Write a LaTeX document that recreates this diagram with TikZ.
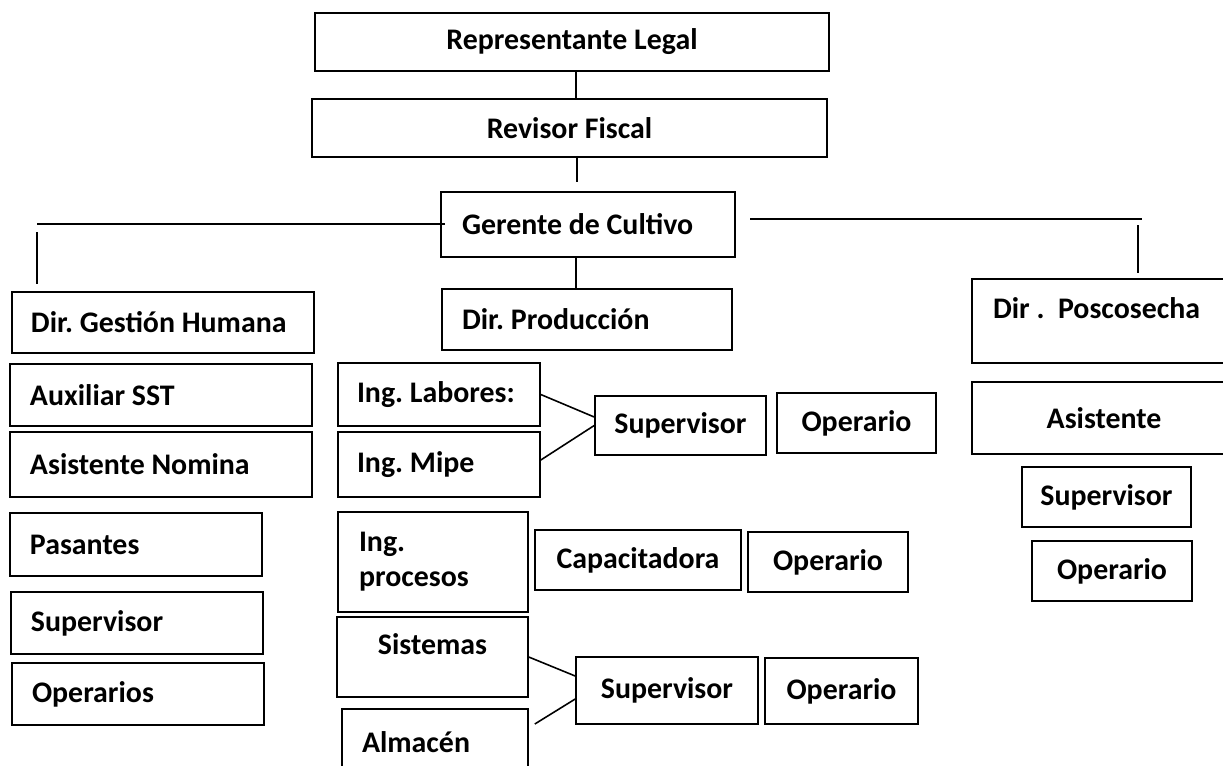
\documentclass[tikz,border=0pt]{standalone}
\usepackage{fontspec}
\setmainfont{Carlito}
\usepackage{tikz}
\frenchspacing

\begin{document}
\begin{tikzpicture}[x=0.02cm,y=-0.02cm,line width=0.9pt,
  caja/.style 2 args={draw,inner sep=0pt,minimum width=#1*0.02cm,minimum height=#2*0.02cm,
    font=\bfseries\fontsize{17}{19.8}\selectfont},
  izq/.style={text width=#1*0.02cm,align=flush left},
  arriba/.style={text height=0.4cm,text depth=0.52cm}]
  \useasboundingbox (0,0) rectangle (1223,765);
  \clip (0,0) rectangle (1223,765);
  \node[caja={514}{58}] (rep) at (572,42) {Representante Legal};
  \node[caja={515}{58}] (rev) at (569.5,128) {Revisor Fiscal};
  \node[caja={294}{65},izq=252] (ger) at (588,224.5) {Gerente de Cultivo};
  \node[caja={302}{61},izq=264] (dgh) at (163,322.5) {Dir. Gestión Humana};
  \node[caja={302}{62},izq=262] (aux) at (161,395) {Auxiliar SST};
  \node[caja={302}{65},izq=262] (nom) at (161,464.5) {Asistente Nomina};
  \node[caja={252}{63},izq=212] (pas) at (136,544.5) {Pasantes};
  \node[caja={252}{62},izq=212] (supgh) at (137,623) {Supervisor};
  \node[caja={252}{62},izq=212] (opgh) at (138,694) {Operarios};
  \node[caja={290}{61},izq=250] (dpro) at (587,319.5) {Dir. Producción};
  \node[caja={202}{63},izq=164] (lab) at (439,394.5) {Ing. Labores:};
  \node[caja={202}{65},izq=164] (mip) at (439,464.5) {Ing. Mipe};
  \node[caja={171}{59}] (suplab) at (680.5,425.5) {Supervisor};
  \node[caja={159}{60}] (oplab) at (856.5,423) {Operario};
  \node[caja={190}{100},izq=148] (proc) at (433,562) {Ing.\\procesos};
  \node[caja={206}{60}] (cap) at (638,560) {Capacitadora};
  \node[caja={160}{60}] (opcap) at (828,562) {Operario};
  \node[caja={191}{80},arriba] (sis) at (432.5,657) {Sistemas};
  \node[caja={186}{66},izq=146] (alm) at (435,742) {Almacén};
  \node[caja={182}{67}] (supsis) at (667,690.5) {Supervisor};
  \node[caja={153}{66}] (opsis) at (841.5,691) {Operario};
  \node[caja={264}{84},izq=222,arriba] (dpos) at (1104,321) {Dir .\ \ Poscosecha};
  \node[caja={264}{72}] (asis) at (1104,418) {Asistente};
  \node[caja={169}{60}] (suppos) at (1106.5,497) {Supervisor};
  \node[caja={160}{60}] (oppos) at (1112,571) {Operario};
  \coordinate (eje) at (576,0);
  \coordinate (finrev) at (577,182);
  \coordinate (izqH) at (37,224);
  \coordinate (izqA) at (37,232);
  \coordinate (izqB) at (37,284);
  \coordinate (derA) at (750,219);
  \coordinate (derB) at (1142,219);
  \coordinate (derC) at (1138,225);
  \coordinate (derD) at (1138,273);
  \draw (rep.south -| eje) -- (rev.north -| eje);
  \draw ([yshift=0.04cm]rev.south -| finrev) -- (finrev);
  \draw ([xshift=0.1cm]ger.west |- izqH) -- (izqH);
  \draw (izqA) -- (izqB);
  \draw (derA) -- (derB);
  \draw (derC) -- (derD);
  \draw (ger.south -| eje) -- (dpro.north -| eje);
  \draw (lab.east) -- ([yshift=0.17cm]suplab.west);
  \draw ([yshift=0.09cm]mip.east) -- (suplab.west);
  \draw (sis.east) -- ([yshift=0.29cm]supsis.west);
  \draw ([shift={(0.12cm,0.36cm)}]alm.east) -- ([yshift=-0.17cm]supsis.west);
\end{tikzpicture}
\end{document}
